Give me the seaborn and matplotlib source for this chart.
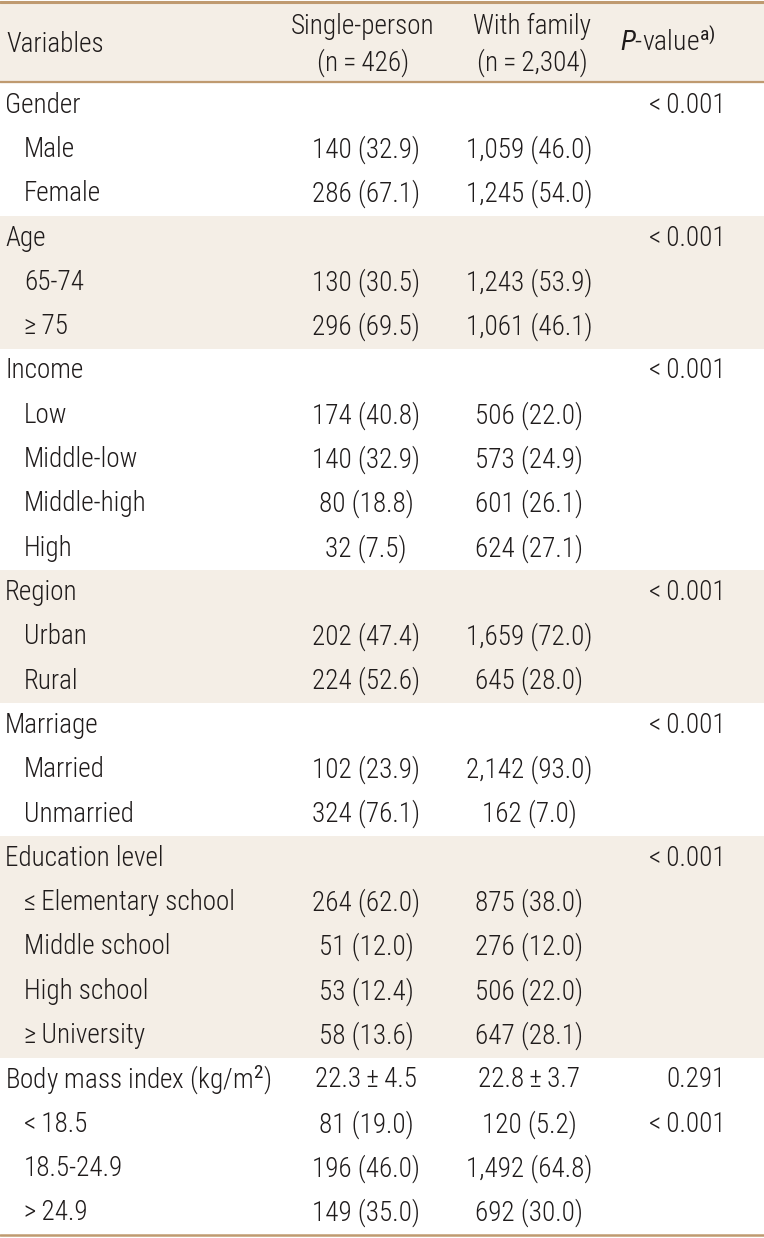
import numpy as np
import pandas as pd
import matplotlib
matplotlib.use("Agg")
import matplotlib.pyplot as plt
import seaborn as sns
from matplotlib import font_manager as fm
from matplotlib.colors import ListedColormap

# table content
variables = ["Gender", "Male", "Female",
             "Age", "65-74", "≥\u200975",
             "Income", "Low", "Middle-low", "Middle-high", "High",
             "Region", "Urban", "Rural",
             "Marriage", "Married", "Unmarried",
             "Education level", "≤\u2009Elementary school", "Middle school", "High school", "≥\u2009University",
             "Body mass index (kg/m$^2$)", "<\u200918.5", "18.5-24.9", ">\u200924.9"]
indent = [0, 1, 1, 0, 1, 1, 0, 1, 1, 1, 1, 0, 1, 1, 0, 1, 1, 0, 1, 1, 1, 1, 0, 1, 1, 1]
single = ["", "140 (32.9)", "286 (67.1)",
          "", "130 (30.5)", "296 (69.5)",
          "", "174 (40.8)", "140 (32.9)", "80 (18.8)", "32 (7.5)",
          "", "202 (47.4)", "224 (52.6)",
          "", "102 (23.9)", "324 (76.1)",
          "", "264 (62.0)", "51 (12.0)", "53 (12.4)", "58 (13.6)",
          "22.3\u2009±\u20094.5", "81 (19.0)", "196 (46.0)", "149 (35.0)"]
family = ["", "1,059 (46.0)", "1,245 (54.0)",
          "", "1,243 (53.9)", "1,061 (46.1)",
          "", "506 (22.0)", "573 (24.9)", "601 (26.1)", "624 (27.1)",
          "", "1,659 (72.0)", "645 (28.0)",
          "", "2,142 (93.0)", "162 (7.0)",
          "", "875 (38.0)", "276 (12.0)", "506 (22.0)", "647 (28.1)",
          "22.8\u2009±\u20093.7", "120 (5.2)", "1,492 (64.8)", "692 (30.0)"]
p_values = ["<\u20090.001", "", "", "<\u20090.001", "", "", "<\u20090.001", "", "", "", "",
            "<\u20090.001", "", "", "<\u20090.001", "", "", "<\u20090.001", "", "", "", "",
            "0.291", "<\u20090.001", "", ""]
shaded = [0, 0, 0, 1, 1, 1, 0, 0, 0, 0, 0, 1, 1, 1, 0, 0, 0, 1, 1, 1, 1, 1, 0, 0, 0, 0]
headers = ["Variables", "Single-person\n(n\u2009=\u2009426)", "With family\n(n\u2009=\u20092,304)",
           r"$\mathit{P}$-value$^{\mathrm{a)}}$"]

# pick a condensed face close to the original
installed = {f.name for f in fm.fontManager.ttflist}
face = next((n for n in ["Roboto Condensed", "Liberation Sans Narrow", "Archivo Narrow",
                         "Asap Condensed", "Barlow Condensed"] if n in installed), "DejaVu Sans")

sns.set_theme(style="white")
plt.rcParams['font.family'] = [face, 'DejaVu Sans']
plt.rcParams['mathtext.fontset'] = 'custom'
plt.rcParams['mathtext.rm'] = face
plt.rcParams['mathtext.it'] = face + ':italic'

W, H = 764, 1238
line_c = "#bf9a70"
band_c = "#f4eee6"
txt_c = "#1f1b1b"
fs = 19.5

body_top, body_bot = 83, 1235
row_h = (body_bot - body_top) / len(variables)

fig = plt.figure(figsize=(W / 100, H / 100), dpi=100)

# row shading via heatmap
hax = fig.add_axes([0, 1 - body_bot / H, 1, (body_bot - body_top) / H])
sns.heatmap(pd.DataFrame({"band": shaded}), cmap=ListedColormap(["white", band_c]),
            cbar=False, ax=hax, xticklabels=False, yticklabels=False, vmin=0, vmax=1)
hax.set_axis_off()

ax = fig.add_axes([0, 0, 1, 1], facecolor="none")
ax.set_xlim(0, W)
ax.set_ylim(H, 0)
ax.set_axis_off()

# header band and rules
ax.axhspan(2, 82, color=band_c, zorder=0)
ax.axhline(1.5, color=line_c, lw=2.2)
ax.axhline(82, color=line_c, lw=1.6)
ax.axhline(body_bot, color=line_c, lw=1.8)

kw = dict(fontsize=fs, color=txt_c, va="center", fontweight="light")
ax.text(6, 44, headers[0], ha="left", **kw)
ax.text(363, 45, headers[1], ha="center", linespacing=1.35, **kw)
ax.text(532, 45, headers[2], ha="center", linespacing=1.35, **kw)
ax.text(668, 42, headers[3], ha="center", **{**kw, "fontsize": fs + 0.5})

for i, name in enumerate(variables):
    y = body_top + (i + 0.5) * row_h
    ax.text(5 + 19 * indent[i], y, name, ha="left", **kw)
    ax.text(366, y, single[i], ha="center", **kw)
    ax.text(529, y, family[i], ha="center", **kw)
    ax.text(726, y, p_values[i], ha="right", **kw)

fig.savefig("out.png", dpi=100)
